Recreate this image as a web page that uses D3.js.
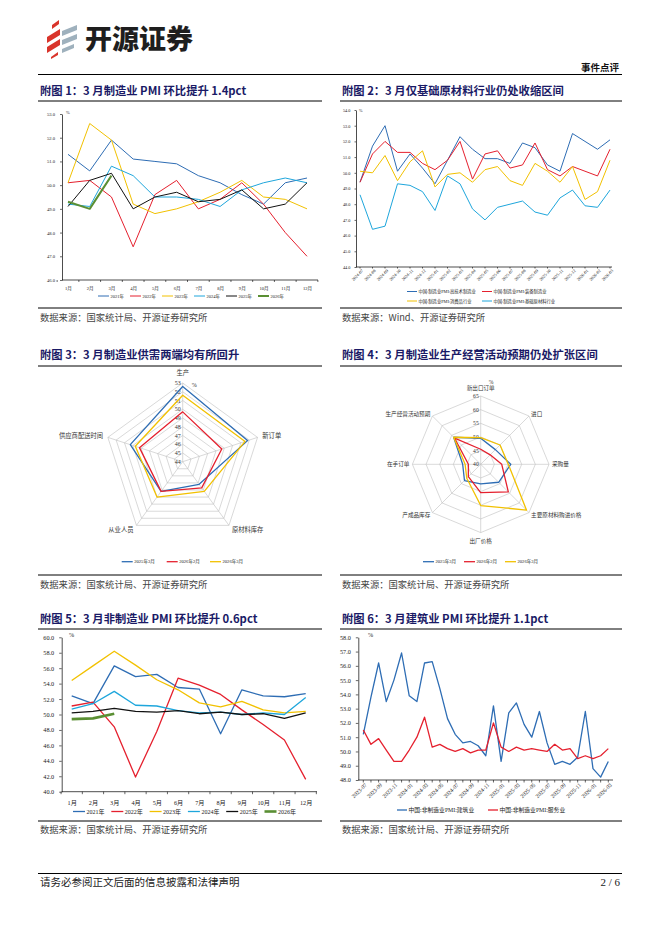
<!DOCTYPE html>
<html><head><meta charset="utf-8">
<script src="https://cdn.jsdelivr.net/npm/d3@7"></script>
<style>body{margin:0;background:#fff}svg{display:block}</style>
</head><body><svg id="c" width="662" height="936"></svg>
<script>
// ---------------- DATA ----------------
const months12 = ["1月","2月","3月","4月","5月","6月","7月","8月","9月","10月","11月","12月"];
const yearLabels = ["2021年","2022年","2023年","2024年","2025年","2026年"];
// Chart 1: manufacturing PMI
const mfg2021 = [51.3,50.6,51.9,51.1,51.0,50.9,50.4,50.1,49.6,49.2,50.1,50.3];
const mfg2022 = [50.1,50.2,49.5,47.4,49.6,50.2,49.0,49.4,50.1,49.2,48.0,47.0];
const mfg2023 = [50.1,52.6,51.9,49.2,48.8,49.0,49.3,49.7,50.2,49.5,49.4,49.0];
const mfg2024 = [49.2,49.1,50.8,50.4,49.5,49.5,49.4,49.1,49.8,50.1,50.3,50.1];
const mfg2025 = [49.1,50.2,50.5,49.0,49.5,49.7,49.3,49.4,49.8,49.0,49.2,50.1];
const mfg2026 = [49.3,49.0,50.4];
const mfgTicks = [46,47,48,49,50,51,52,53];

// Chart 2: industry PMI
const months2 = ["2024-07","2024-08","2024-09","2024-10","2024-11","2024-12","2025-01","2025-02","2025-03","2025-04","2025-05","2025-06","2025-07","2025-08","2025-09","2025-10","2025-11","2025-12","2026-01","2026-02","2026-03"];
const hiTech   = [49.4,51.7,53.0,50.1,51.2,50.3,49.3,50.8,52.3,51.5,50.9,50.9,50.6,51.9,51.6,50.5,50.1,52.5,52.0,51.5,52.1];
const equip    = [49.4,51.2,52.0,51.3,51.3,50.6,50.2,50.8,52.0,49.6,51.2,51.4,50.3,50.5,51.9,50.2,49.8,50.4,50.1,49.8,51.5];
const consumer = [50.1,50.0,51.1,49.5,50.7,51.4,49.1,49.9,50.0,49.4,50.2,50.4,49.5,49.2,50.6,50.1,49.4,50.4,48.3,48.8,50.8];
const rawMat   = [48.6,46.4,46.6,49.3,49.2,48.8,47.6,49.8,49.3,47.7,47.0,47.8,48.0,48.2,47.5,47.3,48.4,48.9,47.9,47.8,48.9];
const indNames = ["中国:制造业PMI:高技术制造业","中国:制造业PMI:装备制造业","中国:制造业PMI:消费品行业","中国:制造业PMI:基础原材料行业"];
const indTicks = [44,45,46,47,48,49,50,51,52,53,54];

// Chart 3: supply / demand radar
const radar3Axes = ["生产","新订单","原材料库存","从业人员","供应商配送时间"];
const radar3Names = ["2025年3月","2026年2月","2026年3月"];
const r3_2025_03 = [52.6,51.8,47.2,48.2,50.3];
const r3_2026_02 = [49.7,48.7,47.7,48.2,49.2];
const r3_2026_03 = [51.6,51.5,48.2,49.0,49.7];
const radar3Ticks = [44,45,46,47,48,49,50,51,52,53];

// Chart 4: expectations radar
const radar4Axes = ["新出口订单","进口","采购量","主要原材料购进价格","出厂价格","产成品库存","在手订单","生产经营活动预期"];
const r4_2025_03 = [49.5,47.6,51.0,49.3,47.2,48.4,46.6,54.0];
const r4_2026_02 = [45.5,44.9,47.7,54.3,50.4,46.4,44.5,53.5];
const r4_2026_03 = [49.8,50.0,50.1,63.7,55.1,47.2,45.7,54.0];
const radar4Ticks = [40,45,50,55,60,65];

// Chart 5: non-manufacturing PMI
const nm2021 = [52.4,51.4,56.3,54.9,55.2,53.5,53.3,47.5,53.2,52.4,52.3,52.7];
const nm2022 = [51.1,51.6,48.4,41.9,47.8,54.7,53.8,52.6,50.6,48.7,46.7,41.6];
const nm2023 = [54.4,56.3,58.2,56.4,54.5,53.2,51.5,51.0,51.7,50.6,50.2,50.4];
const nm2024 = [50.7,51.4,53.0,51.2,51.1,50.5,50.2,50.3,50.0,50.2,50.0,52.2];
const nm2025 = [50.2,50.4,50.8,50.4,50.3,50.5,50.1,50.3,50.0,50.1,49.5,50.2];
const nm2026 = [49.4,49.5,50.1];
const nmTicks = [40,42,44,46,48,50,52,54,56,58,60];

// Chart 6: construction vs services
const months6 = ["2023-07","2023-08","2023-09","2023-10","2023-11","2023-12","2024-01","2024-02","2024-03","2024-04","2024-05","2024-06","2024-07","2024-08","2024-09","2024-10","2024-11","2024-12","2025-01","2025-02","2025-03","2025-04","2025-05","2025-06","2025-07","2025-08","2025-09","2025-10","2025-11","2025-12","2026-01","2026-02","2026-03"];
const construction = [51.2,53.8,56.2,53.5,55.0,56.9,53.9,53.5,56.2,56.3,54.4,52.3,51.2,50.6,50.7,50.4,49.7,53.2,49.3,52.7,53.4,51.9,51.0,52.8,50.6,49.1,49.3,49.1,49.6,52.8,48.8,48.2,49.3];
const services     = [51.5,50.5,50.9,50.1,49.3,49.3,50.1,51.0,52.4,50.3,50.5,50.2,50.0,50.2,49.9,50.1,50.1,52.0,50.3,50.0,50.3,50.1,50.2,50.1,50.0,50.5,50.1,50.2,49.5,49.7,49.5,49.7,50.2];
const bizNames = ["中国:非制造业PMI:建筑业","中国:非制造业PMI:服务业"];
const bizTicks = [48,49,50,51,52,53,54,55,56,57,58];

// ---------------- STYLE ----------------
const CJK = "'Noto Sans CJK SC','Noto Sans',sans-serif";
const NUM = "'Liberation Serif','Noto Sans CJK SC',serif";
const C = {blue:"#2e6db4", red:"#e5202e", yellow:"#f2c100", cyan:"#1ea6dc", black:"#111", green:"#5a8f33", grid:"#bfbfbf"};

const svg = d3.select("#c");
svg.append("rect").attr("width",662).attr("height",936).attr("fill","#fff");

// ---------------- HEADER ----------------
const logo = svg.append("g");
const redBars = [[[52,25],[59,20],[59,24],[52,29]],[[47,37],[60,29],[60,35],[47,43]],[[47,47],[60,39],[60,45],[47,53]],[[51,57],[58,52],[58,55],[51,59]]];
redBars.forEach(p=>logo.append("polygon").attr("points",p.map(q=>q.join(",")).join(" ")).attr("fill","#d9342b"));
const grayBars = [[[62,31],[77,25],[77,30],[62,36]],[[62,40],[77,34],[77,39],[62,45]],[[62,49],[74,44],[74,48],[62,53]]];
grayBars.forEach(p=>logo.append("polygon").attr("points",p.map(q=>q.join(",")).join(" ")).attr("fill","#9fb1bd"));
svg.append("text").attr("x",85).attr("y",49).text("开源证券")
  .attr("font-family",CJK).attr("font-weight",900).attr("font-size",27).attr("fill","#1e1e1e");
svg.append("text").attr("x",619).attr("y",71).attr("text-anchor","end").text("事件点评")
  .attr("font-family",CJK).attr("font-weight",700).attr("font-size",9.5).attr("fill","#111");
svg.append("line").attr("x1",38).attr("x2",622).attr("y1",74.5).attr("y2",74.5).attr("stroke","#000").attr("stroke-width",1.2);

function hline(x1,x2,y,w){svg.append("line").attr("x1",x1).attr("x2",x2).attr("y1",y).attr("y2",y).attr("stroke","#000").attr("stroke-width",w||1);}
function title(t,x,y,lineY,x2){
  svg.append("text").attr("x",x+2).attr("y",y).text(t).attr("font-family",CJK).attr("font-weight",700)
    .attr("font-size",11.3).attr("fill","#1a1a66");
  hline(x,x2,lineY,1);
}
function source(t,x,y,lineY,x2){
  hline(x,x2,lineY,1);
  svg.append("text").attr("x",x+2).attr("y",y).text(t).attr("font-family",CJK).attr("font-size",9.3).attr("fill","#444");
}
title("附图 1：3 月制造业 PMI 环比提升 1.4pct",38,95,101,322);
title("附图 2：3 月仅基础原材料行业仍处收缩区间",340,95,101,622);
title("附图 3：3 月制造业供需两端均有所回升",38,359,366,322);
title("附图 4：3 月制造业生产经营活动预期仍处扩张区间",340,359,366,622);
title("附图 5：3 月非制造业 PMI 环比提升 0.6pct",38,623,629,322);
title("附图 6：3 月建筑业 PMI 环比提升 1.1pct",340,623,629,622);
source("数据来源：国家统计局、开源证券研究所",38,321,308,322);
source("数据来源：Wind、开源证券研究所",340,321,308,622);
source("数据来源：国家统计局、开源证券研究所",38,588,575,322);
source("数据来源：国家统计局、开源证券研究所",340,588,575,622);
source("数据来源：国家统计局、开源证券研究所",38,833,821,322);
source("数据来源：国家统计局、开源证券研究所",340,833,821,622);
hline(38,622,873.5,1.2);
svg.append("text").attr("x",40).attr("y",886).text("请务必参阅正文后面的信息披露和法律声明").attr("font-family",CJK).attr("font-size",10.5).attr("fill","#222");
svg.append("text").attr("x",620).attr("y",886).attr("text-anchor","end").text("2 / 6").attr("font-family",NUM).attr("font-size",11).attr("fill","#222");

// ---------------- LINE CHART ----------------
function lineChart(o){
  const g = svg.append("g");
  const x = d3.scalePoint().domain(o.cats).range(o.xr);
  const y = d3.scaleLinear().domain(o.yd).range(o.yr);
  const ya = g.append("g").attr("transform",`translate(${o.axisX},0)`)
    .call(d3.axisLeft(y).tickValues(o.yticks).tickFormat(d3.format(".1f")).tickSize(o.tl).tickPadding(o.tp).tickSizeOuter(0));
  ya.select(".domain").attr("stroke","#000").attr("stroke-width",0.7);
  ya.selectAll(".tick line").attr("stroke","#000").attr("stroke-width",0.6);
  ya.selectAll(".tick text").attr("font-family",NUM).attr("font-size",o.fs).attr("fill","#222");
  const base = o.yr[0];
  const xa = g.append("g").attr("transform",`translate(0,${base})`)
    .call(d3.axisBottom(x).tickValues(o.xlabels || o.cats).tickSize(0).tickPadding(o.xp));
  xa.select(".domain").remove();
  xa.selectAll(".tick text").attr("font-family",NUM).attr("font-size",o.xfs||o.fs).attr("fill","#222");
  if (o.rotate){
    xa.selectAll(".tick text").attr("text-anchor","end").attr("x",0).attr("y",0).attr("dy","0.35em")
      .attr("transform",`translate(2,${o.xp}) rotate(-45)`);
  }
  g.append("line").attr("x1",o.axisX).attr("x2",o.xEnd).attr("y1",base).attr("y2",base).attr("stroke","#000").attr("stroke-width",0.7);
  // x tick marks
  const tickXs = o.tickBetween ? d3.range(o.cats.length+1).map(i=>x(o.cats[0]) - x.step()/2 + i*x.step()) : o.cats.map(c=>x(c));
  tickXs.forEach(tx=>g.append("line").attr("x1",tx).attr("x2",tx).attr("y1",base).attr("y2",base+o.tl).attr("stroke","#000").attr("stroke-width",0.6));
  g.append("text").attr("x",o.pct[0]).attr("y",o.pct[1]).text("%").attr("font-family",NUM).attr("font-size",o.fs).attr("fill","#222");
  const line = d3.line().x((d,i)=>x(o.cats[i])).y(d=>y(d));
  o.series.forEach(s=>{
    g.append("path").attr("d",line(s.values)).attr("fill","none").attr("stroke",s.color)
      .attr("stroke-width",s.w||o.lw).attr("stroke-linejoin","round");
  });
  // legend
  o.legend.forEach(l=>{
    g.append("line").attr("x1",l.x).attr("x2",l.x+o.legLen).attr("y1",l.y).attr("y2",l.y).attr("stroke",l.color).attr("stroke-width",l.w||o.lw);
    g.append("text").attr("x",l.x+o.legLen+1.5).attr("y",l.y).attr("dy","0.35em").text(l.label)
      .attr("font-family",NUM).attr("font-size",o.lfs).attr("fill","#222");
  });
}

// Chart 1
{
  const vals=[mfg2021,mfg2022,mfg2023,mfg2024,mfg2025,mfg2026];
  const cols=[C.blue,C.red,C.yellow,C.cyan,C.black,C.green];
  lineChart({cats:months12,xr:[68,307],yd:[46,53],yr:[280,114],axisX:62,xEnd:318,yticks:mfgTicks,
    tl:2,tp:5,fs:4.6,xp:7,lw:1,pct:[66,114],tickBetween:true,
    series:vals.map((v,i)=>({values:v,color:cols[i],w:i===5?2:1})),
    legLen:11,lfs:4.5,
    legend:yearLabels.map((l,i)=>({label:l,color:cols[i],x:98+i*32,y:296,w:i===5?2:1}))});
}
// Chart 2
{
  const vals=[hiTech,equip,consumer,rawMat];
  const cols=["#2e6db4",C.red,C.yellow,C.cyan];
  const legPos=[[407,291.5],[482,291.5],[407,301],[482,301]];
  lineChart({cats:months2,xr:[360,610],yd:[44,54],yr:[267,110],axisX:356,xEnd:612,yticks:indTicks,
    tl:1.5,tp:4,fs:4.3,xp:3,lw:1,pct:[359,112],rotate:true,
    series:vals.map((v,i)=>({values:v,color:cols[i]})),
    legLen:10,lfs:4.3,
    legend:indNames.map((l,i)=>({label:l,color:cols[i],x:legPos[i][0],y:legPos[i][1]}))});
}
// Chart 5
{
  const vals=[nm2021,nm2022,nm2023,nm2024,nm2025,nm2026];
  const cols=[C.blue,C.red,C.yellow,C.cyan,C.black,C.green];
  lineChart({cats:months12,xr:[71.7,305.7],yd:[40,60],yr:[791.7,637.3],axisX:61.7,xEnd:317,yticks:nmTicks,
    tl:2.5,tp:5,fs:6.2,xp:9,lw:1.3,pct:[69,637],tickBetween:true,
    series:vals.map((v,i)=>({values:v,color:cols[i],w:i===5?2.6:1.3})),
    legLen:12,lfs:6,
    legend:yearLabels.map((l,i)=>({label:l,color:cols[i],x:73+i*38.3,y:811.5,w:i===5?2.6:1.3}))});
}
// Chart 6
{
  const labs = months6.filter((d,i)=>i%2===0);
  lineChart({cats:months6,xr:[363.3,608.3],yd:[48,58],yr:[780,637.3],axisX:358.3,xEnd:613,yticks:bizTicks,
    tl:2.5,tp:5,fs:6.2,xp:4,xfs:5.6,lw:1.3,pct:[368,637],rotate:true,xlabels:labs,
    series:[{values:construction,color:C.blue},{values:services,color:C.red}],
    legLen:10,lfs:5.8,
    legend:[{label:bizNames[0],color:C.blue,x:397,y:810},{label:bizNames[1],color:C.red,x:488,y:810}]});
}

// ---------------- RADAR ----------------
function radar(o){
  const g = svg.append("g").attr("transform",`translate(${o.cx},${o.cy})`);
  const n = o.axes.length;
  const r = d3.scaleLinear().domain([o.min,o.max]).range([0,o.R]);
  const ang = i => -Math.PI/2 + i*2*Math.PI/n;
  o.rings.forEach(v=>{
    const pts=o.axes.map((a,i)=>[r(v)*Math.cos(ang(i)),r(v)*Math.sin(ang(i))]);
    g.append("polygon").attr("points",pts.map(p=>p.join(",")).join(" ")).attr("fill","none").attr("stroke",C.grid).attr("stroke-width",0.6);
  });
  o.axes.forEach((a,i)=>{
    g.append("line").attr("x1",0).attr("y1",0).attr("x2",o.R*Math.cos(ang(i))).attr("y2",o.R*Math.sin(ang(i)))
      .attr("stroke",C.grid).attr("stroke-width",0.6);
    const c=Math.cos(ang(i)), s=Math.sin(ang(i));
    let lx=(o.R+o.gap)*c, ly=(o.R+o.gap)*s, anchor="middle";
    if (c>0.1) anchor="start"; else if (c<-0.1) anchor="end";
    if (s<-0.9) ly -= o.vgap; if (s>0.9) ly += o.vgap;
    g.append("text").attr("x",lx).attr("y",ly).attr("dy","0.35em").attr("text-anchor",anchor).text(a)
      .attr("font-family",CJK).attr("font-size",o.lfs).attr("fill","#333");
  });
  o.ticks.forEach(v=>{
    g.append("text").attr("x",-2).attr("y",-r(v)).attr("dy","0.35em").attr("text-anchor","end").text(v)
      .attr("font-family",NUM).attr("font-size",o.tfs).attr("fill","#333");
  });
  g.append("text").attr("x",o.pct[0]).attr("y",o.pct[1]).text("%").attr("font-family",NUM).attr("font-size",o.tfs).attr("fill","#333");
  const line = d3.lineRadial().angle((d,i)=>i*2*Math.PI/n).radius(d=>r(d)).curve(d3.curveLinearClosed);
  o.series.forEach(s=>{
    g.append("path").attr("d",line(s.values)).attr("fill","none").attr("stroke",s.color).attr("stroke-width",1.3).attr("stroke-linejoin","round");
  });
  o.series.forEach((s,i)=>{
    const lx=o.legX[i];
    svg.append("line").attr("x1",lx).attr("x2",lx+11).attr("y1",o.legY).attr("y2",o.legY).attr("stroke",s.color).attr("stroke-width",1.3);
    svg.append("text").attr("x",lx+12.5).attr("y",o.legY).attr("dy","0.35em").text(s.name)
      .attr("font-family",NUM).attr("font-size",4.6).attr("fill","#222");
  });
}
radar({cx:182.7,cy:461.7,R:78.7,min:44,max:53,rings:[45,46,47,48,49,50,51,52,53],axes:radar3Axes,
  gap:5,vgap:5,lfs:6.3,tfs:6,ticks:radar3Ticks,pct:[9,-75],
  series:[{name:radar3Names[0],values:r3_2025_03,color:C.blue},{name:radar3Names[1],values:r3_2026_02,color:C.red},{name:radar3Names[2],values:r3_2026_03,color:C.yellow}],
  legX:[121.7,166.7,210],legY:561.7});
radar({cx:480.7,cy:464.3,R:68.3,min:40,max:65,rings:[45,50,55,60,65],axes:radar4Axes,
  gap:3,vgap:5,lfs:5.6,tfs:5.6,ticks:radar4Ticks,pct:[8,-80],
  series:[{name:radar3Names[0],values:r4_2025_03,color:C.blue},{name:radar3Names[1],values:r4_2026_02,color:C.red},{name:radar3Names[2],values:r4_2026_03,color:C.yellow}],
  legX:[423,464,505],legY:561.7});
</script></body></html>
